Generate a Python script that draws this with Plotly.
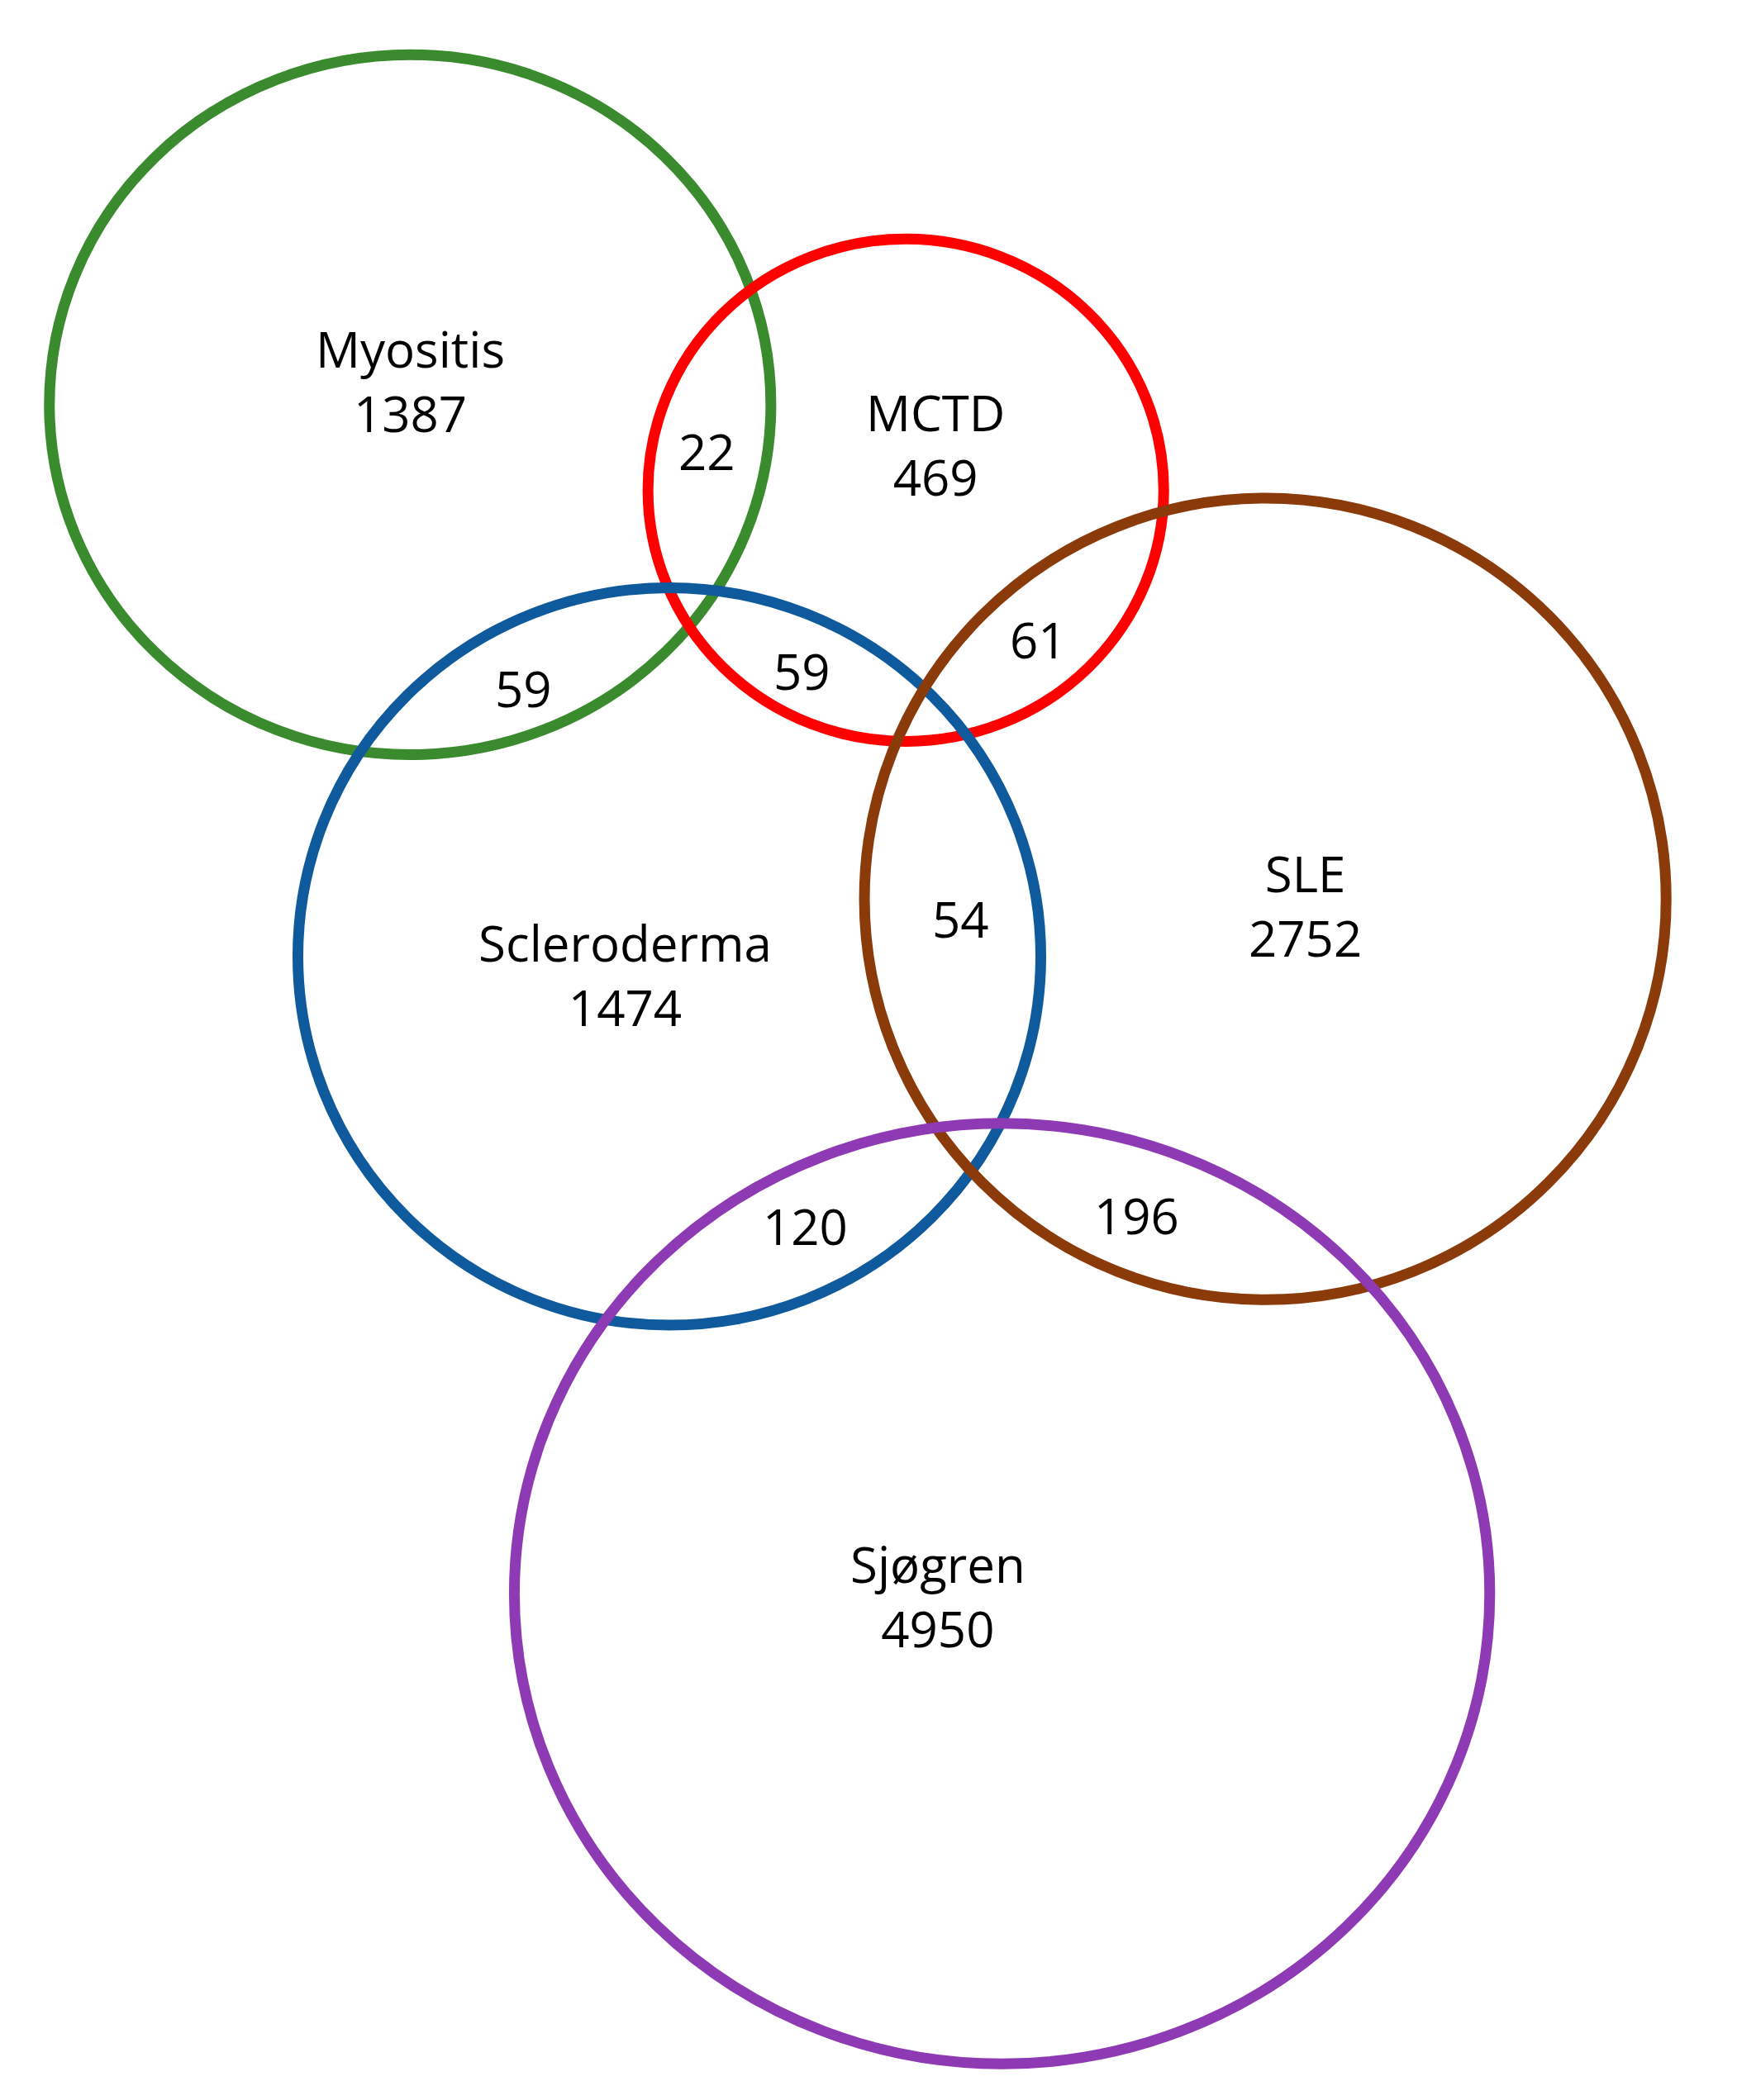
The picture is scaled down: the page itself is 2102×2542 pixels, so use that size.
import plotly.graph_objects as go

# Data
set_names = ["Myositis", "MCTD", "Scleroderma", "SLE", "Sjøgren"]
set_counts = [1387, 469, 1474, 2752, 4950]
overlap_counts = [22, 59, 59, 61, 54, 120, 196]

# Geometry (layout, in picture units)
circle_geom = [  # cx, cy, rx, ry
    (302, 298, 270, 262),
    (673, 362, 193, 188),
    (496, 711, 278, 276),
    (942, 668, 300, 300),
    (745, 1188, 365, 352),
]
colors = ["#3a8a2e", "#ff0000", "#0e5a9c", "#8b3a0a", "#8e3ab4"]
set_label_pos = [(302, 280), (695, 328), (463, 725), (972, 673), (697, 1190)]
overlap_pos = [(524, 333), (387, 510), (595, 497), (772, 474), (714, 683), (598, 913), (846, 905)]

fig = go.Figure()
shapes = []
for (cx, cy, rx, ry), c in zip(circle_geom, colors):
    shapes.append(dict(type="circle", xref="x", yref="y", x0=cx - rx, x1=cx + rx,
                       y0=cy - ry, y1=cy + ry, line=dict(color=c, width=13)))
ann = []
for name, cnt, (x, y) in zip(set_names, set_counts, set_label_pos):
    ann.append(dict(x=x, y=y, text=f"{name}<br>{cnt}", showarrow=False,
                    font=dict(size=60, color="black")))
for cnt, (x, y) in zip(overlap_counts, overlap_pos):
    ann.append(dict(x=x, y=y, text=str(cnt), showarrow=False,
                    font=dict(size=60, color="black")))
fig.update_layout(
    width=2102, height=2542, margin=dict(l=0, r=0, t=0, b=0),
    plot_bgcolor="white", paper_bgcolor="white",
    shapes=shapes, annotations=ann, showlegend=False,
    font=dict(family="Open Sans"),
    xaxis=dict(range=[0, 1300], visible=False, fixedrange=True),
    yaxis=dict(range=[1572, 0], visible=False, fixedrange=True),
)
fig.write_html("out.html")
